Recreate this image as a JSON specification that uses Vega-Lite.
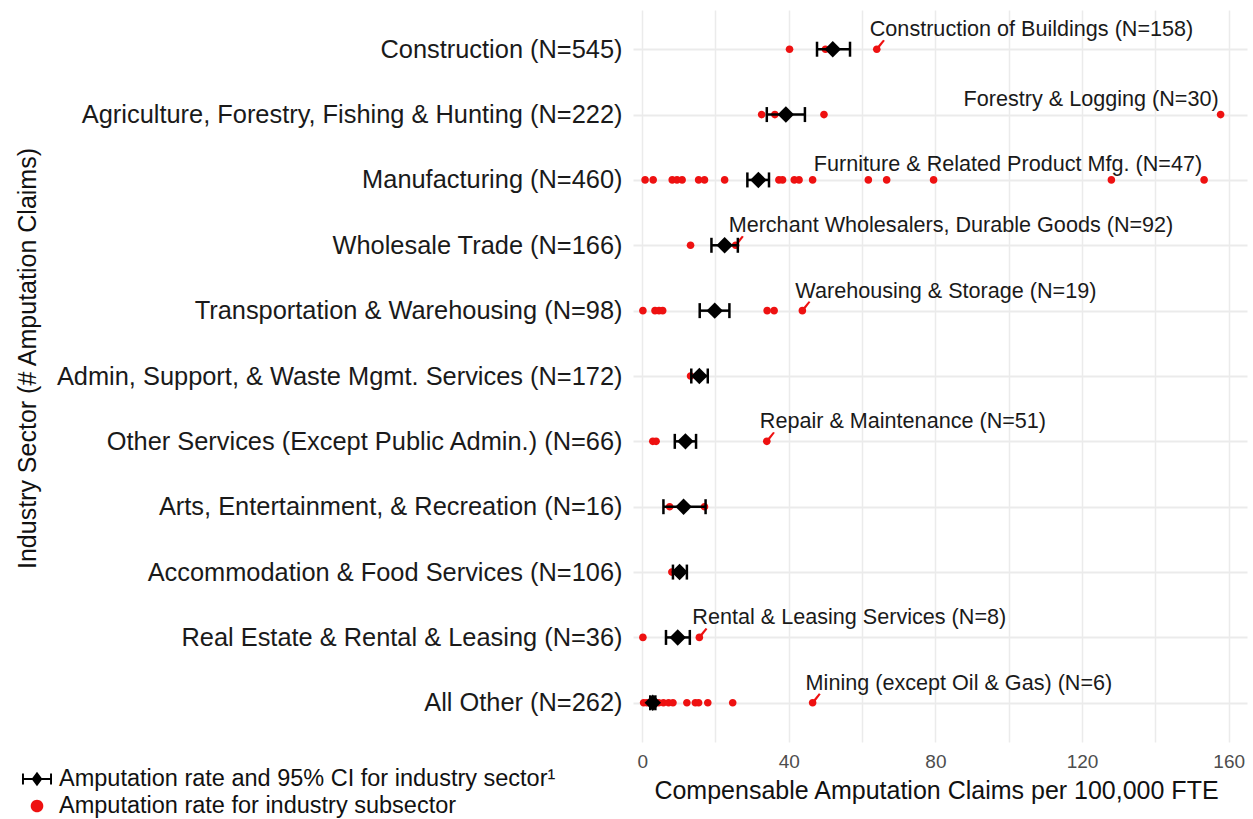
{
  "$schema": "https://vega.github.io/schema/vega-lite/v6.json",
  "width": 614,
  "height": 732,
  "autosize": "none",
  "padding": {"left": 633, "top": 10, "right": 6, "bottom": 77},
  "background": "white",
  "config": {"view": {"stroke": null}, "font": "Liberation Sans"},
  "datasets": {
    "sub": [
      {"sector": "Construction (N=545)", "rate": 40.2},
      {"sector": "Construction (N=545)", "rate": 50.0},
      {"sector": "Construction (N=545)", "rate": 64.0, "label": "Construction of Buildings (N=158)"},
      {"sector": "Agriculture, Forestry, Fishing & Hunting (N=222)", "rate": 32.6},
      {"sector": "Agriculture, Forestry, Fishing & Hunting (N=222)", "rate": 36.2},
      {"sector": "Agriculture, Forestry, Fishing & Hunting (N=222)", "rate": 49.6},
      {"sector": "Agriculture, Forestry, Fishing & Hunting (N=222)", "rate": 157.8, "label": "Forestry & Logging (N=30)"},
      {"sector": "Manufacturing (N=460)", "rate": 0.8},
      {"sector": "Manufacturing (N=460)", "rate": 3.0},
      {"sector": "Manufacturing (N=460)", "rate": 8.2},
      {"sector": "Manufacturing (N=460)", "rate": 9.5},
      {"sector": "Manufacturing (N=460)", "rate": 10.9},
      {"sector": "Manufacturing (N=460)", "rate": 15.4},
      {"sector": "Manufacturing (N=460)", "rate": 17.0},
      {"sector": "Manufacturing (N=460)", "rate": 22.5},
      {"sector": "Manufacturing (N=460)", "rate": 37.3},
      {"sector": "Manufacturing (N=460)", "rate": 38.3},
      {"sector": "Manufacturing (N=460)", "rate": 41.5},
      {"sector": "Manufacturing (N=460)", "rate": 42.8},
      {"sector": "Manufacturing (N=460)", "rate": 46.5},
      {"sector": "Manufacturing (N=460)", "rate": 61.7},
      {"sector": "Manufacturing (N=460)", "rate": 66.7},
      {"sector": "Manufacturing (N=460)", "rate": 79.5},
      {"sector": "Manufacturing (N=460)", "rate": 128.0},
      {"sector": "Manufacturing (N=460)", "rate": 153.3, "label": "Furniture & Related Product Mfg. (N=47)"},
      {"sector": "Wholesale Trade (N=166)", "rate": 13.2},
      {"sector": "Wholesale Trade (N=166)", "rate": 25.5, "label": "Merchant Wholesalers, Durable Goods (N=92)"},
      {"sector": "Transportation & Warehousing (N=98)", "rate": 0.2},
      {"sector": "Transportation & Warehousing (N=98)", "rate": 3.5},
      {"sector": "Transportation & Warehousing (N=98)", "rate": 4.6},
      {"sector": "Transportation & Warehousing (N=98)", "rate": 5.6},
      {"sector": "Transportation & Warehousing (N=98)", "rate": 34.1},
      {"sector": "Transportation & Warehousing (N=98)", "rate": 36.0},
      {"sector": "Transportation & Warehousing (N=98)", "rate": 43.7, "label": "Warehousing & Storage (N=19)"},
      {"sector": "Admin, Support, & Waste Mgmt. Services (N=172)", "rate": 13.2},
      {"sector": "Other Services (Except Public Admin.) (N=66)", "rate": 2.9},
      {"sector": "Other Services (Except Public Admin.) (N=66)", "rate": 3.8},
      {"sector": "Other Services (Except Public Admin.) (N=66)", "rate": 34.0, "label": "Repair & Maintenance (N=51)"},
      {"sector": "Arts, Entertainment, & Recreation (N=16)", "rate": 7.5},
      {"sector": "Arts, Entertainment, & Recreation (N=16)", "rate": 17.0},
      {"sector": "Accommodation & Food Services (N=106)", "rate": 8.1},
      {"sector": "Real Estate & Rental & Leasing (N=36)", "rate": 0.2},
      {"sector": "Real Estate & Rental & Leasing (N=36)", "rate": 15.6, "label": "Rental & Leasing Services (N=8)"},
      {"sector": "All Other (N=262)", "rate": 0.4},
      {"sector": "All Other (N=262)", "rate": 1.3},
      {"sector": "All Other (N=262)", "rate": 4.5},
      {"sector": "All Other (N=262)", "rate": 5.8},
      {"sector": "All Other (N=262)", "rate": 7.2},
      {"sector": "All Other (N=262)", "rate": 8.4},
      {"sector": "All Other (N=262)", "rate": 12.2},
      {"sector": "All Other (N=262)", "rate": 14.5},
      {"sector": "All Other (N=262)", "rate": 15.4},
      {"sector": "All Other (N=262)", "rate": 17.9},
      {"sector": "All Other (N=262)", "rate": 24.7},
      {"sector": "All Other (N=262)", "rate": 46.5, "label": "Mining (except Oil & Gas) (N=6)"}
    ],
    "sector": [
      {"sector": "Construction (N=545)", "rate": 52.0, "lower": 47.7, "upper": 56.7},
      {"sector": "Agriculture, Forestry, Fishing & Hunting (N=222)", "rate": 39.2, "lower": 34.0, "upper": 44.4},
      {"sector": "Manufacturing (N=460)", "rate": 31.7, "lower": 28.7, "upper": 34.6},
      {"sector": "Wholesale Trade (N=166)", "rate": 22.5, "lower": 18.9, "upper": 26.1},
      {"sector": "Transportation & Warehousing (N=98)", "rate": 19.8, "lower": 15.7, "upper": 23.8},
      {"sector": "Admin, Support, & Waste Mgmt. Services (N=172)", "rate": 15.6, "lower": 13.4, "upper": 17.9},
      {"sector": "Other Services (Except Public Admin.) (N=66)", "rate": 11.8, "lower": 8.9, "upper": 14.7},
      {"sector": "Arts, Entertainment, & Recreation (N=16)", "rate": 11.3, "lower": 5.8, "upper": 17.3},
      {"sector": "Accommodation & Food Services (N=106)", "rate": 10.2, "lower": 8.4, "upper": 12.2},
      {"sector": "Real Estate & Rental & Leasing (N=36)", "rate": 9.7, "lower": 6.5, "upper": 13.0},
      {"sector": "All Other (N=262)", "rate": 2.9, "lower": 2.2, "upper": 3.6}
    ]
  },
  "layer": [
    {
      "data": {"name": "sub"},
      "mark": {"type": "point", "filled": true, "opacity": 1, "size": 330},
      "encoding": {
        "x": {
          "field": "rate", "type": "quantitative",
          "title": "Compensable Amputation Claims per 100,000 FTE",
          "scale": {"domain": [-2.5, 165], "nice": false, "zero": false},
          "axis": {
            "values": [0, 20, 40, 60, 80, 100, 120, 140, 160],
            "labelExpr": "datum.value % 40 === 0 ? datum.label : ''",
            "labelFontSize": 19, "labelColor": "#4d4d4d", "labelPadding": 10,
            "ticks": false, "domain": false,
            "grid": true, "gridColor": "#ebebeb", "gridWidth": 1.5,
            "titleFontSize": 25, "titleFontWeight": "normal", "titleColor": "#111111",
            "titleX": 303, "titleY": 48, "titleBaseline": "middle", "titleAlign": "center"
          }
        },
        "y": {
          "field": "sector", "type": "nominal",
          "title": "Industry Sector (# Amputation Claims)",
          "scale": {
            "type": "point", "padding": 0.6,
            "domain": [
              "Construction (N=545)",
              "Agriculture, Forestry, Fishing & Hunting (N=222)",
              "Manufacturing (N=460)",
              "Wholesale Trade (N=166)",
              "Transportation & Warehousing (N=98)",
              "Admin, Support, & Waste Mgmt. Services (N=172)",
              "Other Services (Except Public Admin.) (N=66)",
              "Arts, Entertainment, & Recreation (N=16)",
              "Accommodation & Food Services (N=106)",
              "Real Estate & Rental & Leasing (N=36)",
              "All Other (N=262)"
            ]
          },
          "axis": {
            "labelFontSize": 25.4, "labelColor": "#1a1a1a", "labelPadding": 11, "labelLimit": 700,
            "ticks": false, "domain": false,
            "grid": true, "gridColor": "#ebebeb", "gridWidth": 2,
            "titleFontSize": 25, "titleFontWeight": "normal", "titleColor": "#111111",
            "titleX": -606, "titleY": 348, "titleAngle": 270, "titleBaseline": "middle", "titleAlign": "center"
          }
        },
        "color": {
          "datum": "Amputation rate for industry subsector",
          "scale": {
            "domain": ["Amputation rate and 95% CI for industry sector¹", "Amputation rate for industry subsector"],
            "range": ["#000000", "#ee1111"]
          },
          "legend": {
            "title": null, "orient": "none", "legendX": -611, "legendY": 754,
            "symbolSize": 900, "symbolOpacity": 1, "symbolStrokeWidth": 0,
            "labelFontSize": 23.5, "labelColor": "#111111", "labelOffset": 7,
            "rowPadding": -1, "padding": 0, "labelLimit": 700
          }
        },
        "shape": {
          "datum": "Amputation rate for industry subsector",
          "scale": {
            "domain": ["Amputation rate and 95% CI for industry sector¹", "Amputation rate for industry subsector"],
            "range": [
              "M-1,-0.07H1V0.07H-1Z M-1,-0.36H-0.87V0.36H-1Z M0.87,-0.36H1V0.36H0.87Z M0,-0.48L0.36,0L0,0.48L-0.36,0Z",
              "M0.42,0A0.42,0.42,0,1,1,-0.42,0A0.42,0.42,0,1,1,0.42,0Z"
            ]
          },
          "legend": {
            "title": null, "orient": "none", "legendX": -611, "legendY": 754,
            "symbolSize": 900, "symbolOpacity": 1, "symbolStrokeWidth": 0,
            "labelFontSize": 23.5, "labelColor": "#111111", "labelOffset": 7,
            "rowPadding": -1, "padding": 0, "labelLimit": 700
          }
        }
      }
    },
    {
      "data": {"name": "sub"},
      "transform": [{"filter": "datum.label && datum.rate < 140"}],
      "mark": {
        "type": "point", "filled": true, "opacity": 1, "size": 324, "color": "#ee1111",
        "shape": "M-0.1,-0.1L0.7,-1.05L0.9,-0.95L0.1,0.1Z"
      },
      "encoding": {
        "x": {"field": "rate", "type": "quantitative", "title": "Compensable Amputation Claims per 100,000 FTE"},
        "y": {"field": "sector", "type": "nominal", "title": "Industry Sector (# Amputation Claims)"}
      }
    },
    {
      "data": {"name": "sector"},
      "mark": {"type": "rule", "color": "#000000", "strokeWidth": 2.5},
      "encoding": {
        "x": {"field": "lower", "type": "quantitative", "title": "Compensable Amputation Claims per 100,000 FTE"},
        "x2": {"field": "upper"},
        "y": {"field": "sector", "type": "nominal", "title": "Industry Sector (# Amputation Claims)"}
      }
    },
    {
      "data": {"name": "sector"},
      "mark": {"type": "tick", "orient": "vertical", "color": "#000000", "size": 15, "thickness": 2.5, "opacity": 1},
      "encoding": {
        "x": {"field": "lower", "type": "quantitative", "title": "Compensable Amputation Claims per 100,000 FTE"},
        "y": {"field": "sector", "type": "nominal", "title": "Industry Sector (# Amputation Claims)"}
      }
    },
    {
      "data": {"name": "sector"},
      "mark": {"type": "tick", "orient": "vertical", "color": "#000000", "size": 15, "thickness": 2.5, "opacity": 1},
      "encoding": {
        "x": {"field": "upper", "type": "quantitative", "title": "Compensable Amputation Claims per 100,000 FTE"},
        "y": {"field": "sector", "type": "nominal", "title": "Industry Sector (# Amputation Claims)"}
      }
    },
    {
      "data": {"name": "sector"},
      "mark": {"type": "point", "shape": "diamond", "filled": true, "color": "#000000", "opacity": 1, "size": 270},
      "encoding": {
        "x": {"field": "rate", "type": "quantitative", "title": "Compensable Amputation Claims per 100,000 FTE"},
        "y": {"field": "sector", "type": "nominal", "title": "Industry Sector (# Amputation Claims)"}
      }
    },
    {
      "data": {"name": "sub"},
      "transform": [{"filter": "datum.label && datum.rate < 140"}],
      "mark": {"type": "text", "align": "left", "baseline": "middle", "dx": -7, "dy": -19, "fontSize": 21.6, "color": "#1a1a1a"},
      "encoding": {
        "x": {"field": "rate", "type": "quantitative", "title": "Compensable Amputation Claims per 100,000 FTE"},
        "y": {"field": "sector", "type": "nominal", "title": "Industry Sector (# Amputation Claims)"},
        "text": {"field": "label"}
      }
    },
    {
      "data": {"name": "sub"},
      "transform": [{"filter": "datum.label && datum.rate >= 140"}],
      "mark": {"type": "text", "align": "right", "baseline": "middle", "dx": -2, "dy": -15, "fontSize": 21.6, "color": "#1a1a1a"},
      "encoding": {
        "x": {"field": "rate", "type": "quantitative", "title": "Compensable Amputation Claims per 100,000 FTE"},
        "y": {"field": "sector", "type": "nominal", "title": "Industry Sector (# Amputation Claims)"},
        "text": {"field": "label"}
      }
    }
  ]
}
